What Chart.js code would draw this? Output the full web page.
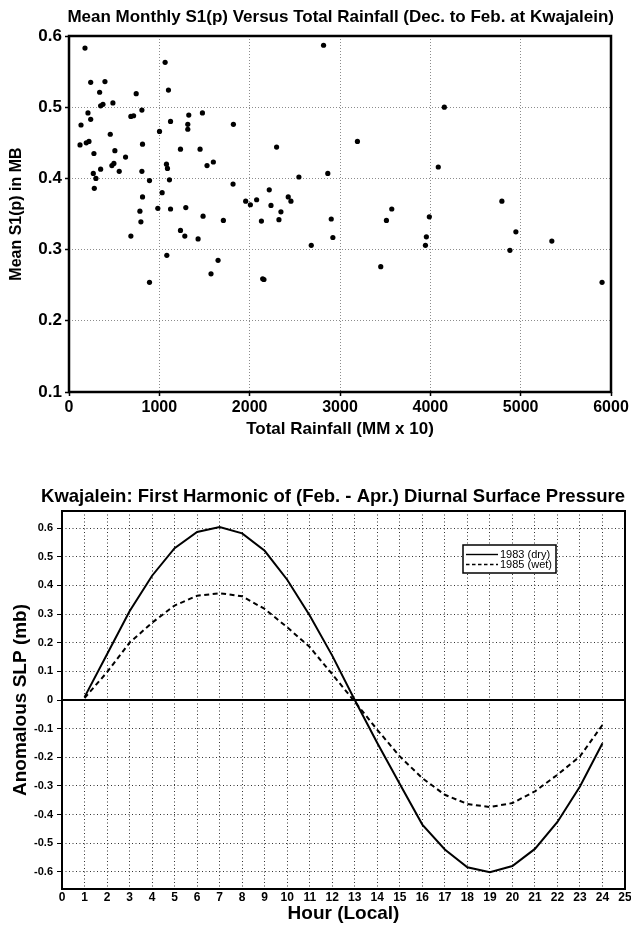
<!DOCTYPE html>
<html><head><meta charset="utf-8">
<script src="https://cdn.jsdelivr.net/npm/chart.js@4.4.1/dist/chart.umd.min.js"></script>
<style>
html,body{margin:0;padding:0;background:#fff;width:631px;height:926px;overflow:hidden}
.box{position:absolute;left:0;width:631px}
</style></head>
<body>
<div class="box" style="top:0;height:460px"><canvas id="c1"></canvas></div>
<div class="box" style="top:460px;height:466px"><canvas id="c2"></canvas></div>
<script>
// ---- Top chart data: Mean monthly S1(p) vs total rainfall ----
const rainfall = [177,1064,240,398,339,1101,744,350,376,486,210,240,133,685,715,807,1326,1477,1124,1315,1315,1002,1820,457,122,191,221,814,276,508,626,1234,1451,475,497,350,556,807,269,298,280,1079,1090,1528,1598,891,1112,1816,1031,814,785,983,1124,1293,796,1484,1709,1956,2008,2077,2130,685,1234,1282,1429,1083,1650,1572,891,2818,2298,3193,2545,2865,4088,2217,2427,2457,2236,2346,2324,2903,2921,2682,2144,2158,3573,3514,3451,3989,3956,3946,4155,4792,4947,4881,5345,5901];
const s1p = [0.583,0.563,0.535,0.536,0.521,0.524,0.519,0.502,0.504,0.506,0.492,0.483,0.475,0.487,0.488,0.496,0.489,0.492,0.480,0.476,0.469,0.466,0.476,0.462,0.447,0.450,0.452,0.448,0.435,0.439,0.430,0.441,0.441,0.418,0.421,0.413,0.410,0.410,0.407,0.400,0.386,0.420,0.414,0.418,0.423,0.397,0.398,0.392,0.380,0.374,0.354,0.358,0.357,0.359,0.339,0.347,0.341,0.368,0.363,0.370,0.340,0.319,0.327,0.319,0.315,0.292,0.285,0.266,0.254,0.587,0.444,0.452,0.402,0.407,0.416,0.384,0.374,0.368,0.362,0.353,0.342,0.343,0.317,0.306,0.259,0.258,0.357,0.341,0.276,0.346,0.318,0.306,0.500,0.368,0.325,0.299,0.312,0.254];
const rainTicks = [0,1000,2000,3000,4000,5000,6000];
const s1pTicks = [0.1,0.2,0.3,0.4,0.5,0.6];

// ---- Bottom chart data: first harmonic of diurnal surface pressure ----
const hours = [1,2,3,4,5,6,7,8,9,10,11,12,13,14,15,16,17,18,19,20,21,22,23,24];
const dry1983 = [0.01,0.16,0.31,0.434,0.53,0.587,0.604,0.582,0.521,0.42,0.295,0.155,0.0,-0.15,-0.293,-0.435,-0.522,-0.584,-0.601,-0.58,-0.52,-0.426,-0.302,-0.151];
const wet1985 = [0.007,0.097,0.20,0.27,0.33,0.364,0.373,0.362,0.318,0.254,0.185,0.09,-0.006,-0.104,-0.197,-0.273,-0.331,-0.363,-0.374,-0.36,-0.319,-0.261,-0.197,-0.087];
const hourTicks = [0,1,2,3,4,5,6,7,8,9,10,11,12,13,14,15,16,17,18,19,20,21,22,23,24,25];
const slpTicks = [-0.6,-0.5,-0.4,-0.3,-0.2,-0.1,0,0.1,0.2,0.3,0.4,0.5,0.6];

const FONT = "'Liberation Sans', Arial, Helvetica, sans-serif";
Chart.defaults.font.family = FONT;
Chart.defaults.color = '#000';

function fixTicks(values){ return function(scale){ scale.ticks = values.map(v => ({value: v})); }; }
function framePlugin(w){
  return {id:'frame', afterDatasetsDraw(chart){
    const a = chart.chartArea, c = chart.ctx;
    c.save(); c.strokeStyle = '#000'; c.lineWidth = w;
    c.strokeRect(a.left, a.top, a.right - a.left, a.bottom - a.top);
    c.restore();
  }};
}

// ---------------- Top chart ----------------
new Chart(document.getElementById('c1'), {
  type: 'scatter',
  data: { datasets: [{
    label: 'S1(p)',
    data: rainfall.map((x, i) => ({x: x, y: s1p[i]})),
    pointRadius: 2.6, pointHoverRadius: 2.6,
    backgroundColor: '#000', borderColor: '#000', borderWidth: 0
  }]},
  options: {
    responsive: true, maintainAspectRatio: false, animation: false, events: [],
    layout: { padding: {left: 0, right: 17, top: 0, bottom: 0} },
    plugins: {
      legend: {display: false}, tooltip: {enabled: false},
      title: { display: true, align: 'end', color: '#000',
        text: 'Mean Monthly S1(p) Versus Total Rainfall (Dec. to Feb. at Kwajalein)',
        font: {size: 17, weight: 'bold', lineHeight: 1.2}, padding: {top: 7, bottom: 8.6} }
    },
    scales: {
      x: { type: 'linear', min: 0, max: 6000,
        afterBuildTicks: fixTicks(rainTicks),
        afterFit(s){ s.height = 68; s.paddingRight = 20; s.paddingLeft = 0; },
        grid: {color: '#8c8c8c', lineWidth: 1, drawTicks: true, tickLength: 4, tickColor: '#000', tickBorderDash: [], tickWidth: 1.5},
        border: {display: false, dash: [1, 2]},
        ticks: {font: {size: 16, weight: 'bold', lineHeight: 1.2}, padding: 2, maxRotation: 0, autoSkip: false, callback: v => String(v)},
        title: {display: true, text: 'Total Rainfall (MM x 10)', font: {size: 17, weight: 'bold', lineHeight: 1.2}, padding: {top: 0, bottom: 20}}
      },
      y: { type: 'linear', min: 0.1, max: 0.6,
        afterBuildTicks: fixTicks(s1pTicks), afterFit(s){ s.width = 69; },
        grid: {color: '#8c8c8c', lineWidth: 1, drawTicks: true, tickLength: 4, tickColor: '#000', tickBorderDash: [], tickWidth: 1.5},
        border: {display: false, dash: [1, 2]},
        ticks: {font: {size: 17, weight: 'bold'}, padding: 3, callback: v => v.toFixed(1)},
        title: {display: true, text: 'Mean S1(p) in MB', font: {size: 16, weight: 'bold', lineHeight: 1.2}, padding: {top: 7, bottom: 0}}
      }
    }
  },
  plugins: [framePlugin(2.5)]
});

// ---------------- Bottom chart ----------------
const zeroLine = {id:'zeroLine', beforeDatasetsDraw(chart){
  const a = chart.chartArea, c = chart.ctx, y = chart.scales.y.getPixelForValue(0);
  c.save(); c.strokeStyle = '#000'; c.lineWidth = 1.8;
  c.beginPath(); c.moveTo(a.left, y); c.lineTo(a.right, y); c.stroke(); c.restore();
}};
const boxLegend = {id:'boxLegend', afterDatasetsDraw(chart){
  const a = chart.chartArea, c = chart.ctx;
  const x = a.right - 162, y = a.top + 34, w = 93, h = 28;
  c.save();
  c.fillStyle = '#fff'; c.fillRect(x, y, w, h);
  c.strokeStyle = '#000'; c.lineWidth = 1.5; c.strokeRect(x, y, w, h);
  chart.data.datasets.forEach((ds, i) => {
    const ry = y + 9.5 + i * 10;
    c.setLineDash(ds.borderDash ? [3.5, 2.5] : []);
    c.lineWidth = 1.4; c.beginPath(); c.moveTo(x + 3, ry); c.lineTo(x + 35, ry); c.stroke();
    c.setLineDash([]);
    c.fillStyle = '#000'; c.font = '11px ' + FONT; c.textBaseline = 'middle'; c.textAlign = 'left';
    c.fillText(ds.label, x + 37, ry + 0.5);
  });
  c.restore();
}};

new Chart(document.getElementById('c2'), {
  type: 'line',
  data: { datasets: [
    { label: '1983 (dry)', data: hours.map((h, i) => ({x: h, y: dry1983[i]})),
      borderColor: '#000', borderWidth: 2, pointRadius: 0, tension: 0, fill: false },
    { label: '1985 (wet)', data: hours.map((h, i) => ({x: h, y: wet1985[i]})),
      borderColor: '#000', borderWidth: 2, borderDash: [5, 3.5], pointRadius: 0, tension: 0, fill: false }
  ]},
  options: {
    responsive: true, maintainAspectRatio: false, animation: false, events: [],
    layout: { padding: {left: 0, right: 6, top: 0, bottom: 0} },
    plugins: {
      legend: {display: false}, tooltip: {enabled: false},
      title: { display: true, align: 'end', color: '#000',
        text: 'Kwajalein: First Harmonic of (Feb. - Apr.) Diurnal Surface Pressure',
        font: {size: 18.5, weight: 'bold', lineHeight: 1.2}, padding: {top: 26, bottom: 2.8} }
    },
    scales: {
      x: { type: 'linear', min: 0, max: 25,
        afterBuildTicks: fixTicks(hourTicks),
        afterFit(s){ s.height = 37; s.paddingRight = 6; s.paddingLeft = 0; },
        grid: {color: '#333', lineWidth: 1, drawTicks: false},
        border: {display: false, dash: [1, 2.5]},
        ticks: {font: {size: 12, weight: 'bold', lineHeight: 1}, padding: 3, maxRotation: 0, autoSkip: false, callback: v => String(v)},
        title: {display: true, text: 'Hour (Local)', font: {size: 19, weight: 'bold', lineHeight: 1.2}, padding: {top: 0, bottom: 1}}
      },
      y: { type: 'linear', min: -0.66, max: 0.66,
        afterBuildTicks: fixTicks(slpTicks), afterFit(s){ s.width = 62; },
        grid: {color: '#333', lineWidth: 1, drawTicks: true, tickLength: 5, tickColor: '#000', tickBorderDash: [], tickWidth: 1},
        border: {display: false, dash: [1, 2.5]},
        ticks: {font: {size: 11, weight: 'bold'}, padding: 4, callback: v => (v === 0 ? '0' : v.toFixed(1))},
        title: {display: true, text: 'Anomalous SLP (mb)', font: {size: 19, weight: 'bold', lineHeight: 1.2}, padding: {top: 9, bottom: 0}}
      }
    }
  },
  plugins: [zeroLine, boxLegend, framePlugin(2)]
});
</script>
</body></html>
